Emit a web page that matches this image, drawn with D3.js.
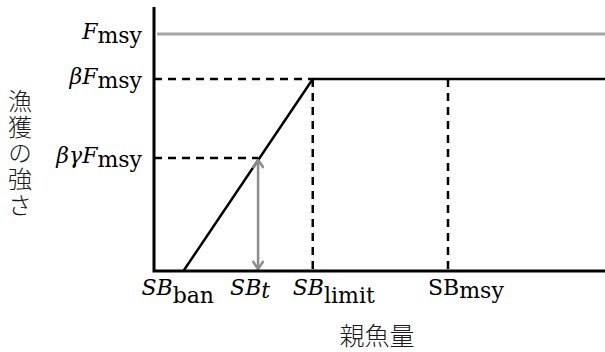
<!DOCTYPE html>
<html>
<head>
<meta charset="utf-8">
<script src="https://d3js.org/d3.v7.min.js"></script>
<style>
  html, body { margin: 0; padding: 0; background: #fff; }
  svg { display: block; }
</style>
</head>
<body>
<div id="chart"></div>
<script>
// Valores del diagrama (unidades relativas: Fmsy = 1, SBmsy = 1)
const fLevels = [1.0, 0.81, 0.477];          // Fmsy, βFmsy, βγFmsy
const fLabels = [
  { main: "F", sub: "msy", italicMain: true },
  { main: "βF", sub: "msy", italicMain: true },
  { main: "βγF", sub: "msy", italicMain: true }
];
const sbPoints = [0.10, 0.354, 0.54, 1.0];    // SBban, SBt, SBlimit, SBmsy
const sbLabels = [
  { main: "SB", sub: "ban", italicMain: true, italicSub: false },
  { main: "SB", sub: "t", italicMain: true, italicSub: true },
  { main: "SB", sub: "limit", italicMain: true, italicSub: false },
  { main: "SB", sub: "msy", italicMain: false, italicSub: false }
];
const fMax = 1.114;
const sbMax = 1.534;
const xTitle = "親魚量";
const yTitle = "漁獲の強さ";

// Ajustes de posición de las etiquetas (solo diseño)
const sbLabelShift = [-42, -28, -20, -20];
const sbSubDrop = [8, 3, 8, 3];

const width = 605, height = 352;
const x0 = 154, y0 = 271, yTop = 7;

const svg = d3.select("#chart").append("svg")
  .attr("width", width)
  .attr("height", height);

const x = d3.scaleLinear().domain([0, sbMax]).range([x0, width]);
const y = d3.scaleLinear().domain([0, fMax]).range([y0, yTop]);

const [fmsy, bFmsy, bgFmsy] = fLevels;
const [sbBan, sbT, sbLimit, sbMsy] = sbPoints;

const dash = "8,6";

// Línea gris Fmsy
svg.append("line")
  .attr("x1", x(0) + 3).attr("x2", x(sbMax))
  .attr("y1", y(fmsy)).attr("y2", y(fmsy))
  .attr("stroke", "#a6a6a6").attr("stroke-width", 3);

// Líneas discontinuas horizontales
svg.append("line")
  .attr("x1", x(0)).attr("x2", x(sbLimit))
  .attr("y1", y(bFmsy)).attr("y2", y(bFmsy))
  .attr("stroke", "#000").attr("stroke-width", 2.5)
  .attr("stroke-dasharray", dash);
svg.append("line")
  .attr("x1", x(0)).attr("x2", x(sbT))
  .attr("y1", y(bgFmsy)).attr("y2", y(bgFmsy))
  .attr("stroke", "#000").attr("stroke-width", 2.5)
  .attr("stroke-dasharray", dash);

// Líneas discontinuas verticales
[sbLimit, sbMsy].forEach(v => {
  svg.append("line")
    .attr("x1", x(v)).attr("x2", x(v))
    .attr("y1", y(bFmsy)).attr("y2", y(0))
    .attr("stroke", "#000").attr("stroke-width", 2.5)
    .attr("stroke-dasharray", dash);
});

// Regla de control
const hcr = [[sbBan, 0], [sbLimit, bFmsy], [sbMax, bFmsy]];
svg.append("path")
  .attr("d", d3.line().x(d => x(d[0])).y(d => y(d[1]))(hcr))
  .attr("fill", "none")
  .attr("stroke", "#000")
  .attr("stroke-width", 2.5);

// Flecha gris doble en SBt
const defs = svg.append("defs");
defs.append("marker")
  .attr("id", "chev")
  .attr("viewBox", "0 0 10 12")
  .attr("refX", 9).attr("refY", 6)
  .attr("markerWidth", 10).attr("markerHeight", 12)
  .attr("markerUnits", "userSpaceOnUse")
  .attr("orient", "auto-start-reverse")
  .append("path")
  .attr("d", "M1,0.5 L9,6 L1,11.5")
  .attr("fill", "none")
  .attr("stroke", "#8c8c8c")
  .attr("stroke-width", 2.5);

svg.append("line")
  .attr("x1", x(sbT)).attr("x2", x(sbT))
  .attr("y1", y(bgFmsy) + 2).attr("y2", y(0) - 2)
  .attr("stroke", "#8c8c8c").attr("stroke-width", 2.5)
  .attr("marker-start", "url(#chev)")
  .attr("marker-end", "url(#chev)");

// Ejes
svg.append("path")
  .attr("d", d3.line()([[x(0), y(fMax)], [x(0), y(0)], [x(sbMax), y(0)]]))
  .attr("fill", "none")
  .attr("stroke", "#000")
  .attr("stroke-width", 3);

// Etiquetas del eje Y
const serif = "'DejaVu Serif', 'Liberation Serif', serif";
fLevels.forEach((v, i) => {
  const lab = fLabels[i];
  const t = svg.append("text")
    .attr("x", x0 - 12)
    .attr("y", y(v) + 5)
    .attr("text-anchor", "end")
    .attr("font-family", serif)
    .attr("font-size", 22)
    .attr("fill", "#000");
  t.append("tspan").text(lab.main)
    .attr("font-style", lab.italicMain ? "italic" : "normal");
  t.append("tspan").text(lab.sub).attr("dy", 4);
});

// Etiquetas del eje X
sbPoints.forEach((v, i) => {
  const lab = sbLabels[i];
  const t = svg.append("text")
    .attr("x", x(v) + sbLabelShift[i])
    .attr("y", y(0) + 24)
    .attr("text-anchor", "start")
    .attr("font-family", serif)
    .attr("font-size", 22)
    .attr("fill", "#000");
  t.append("tspan").text(lab.main)
    .attr("font-style", lab.italicMain ? "italic" : "normal");
  t.append("tspan").text(lab.sub)
    .attr("dy", sbSubDrop[i])
    .attr("font-style", lab.italicSub ? "italic" : "normal");
});

// Títulos
const cjk = "'Noto Sans CJK JP', sans-serif";
svg.append("text")
  .attr("x", 377)
  .attr("y", 345)
  .attr("text-anchor", "middle")
  .attr("font-family", cjk)
  .attr("font-weight", 300)
  .attr("font-size", 25)
  .attr("fill", "#1a1a1a")
  .text(xTitle);

svg.append("text")
  .attr("x", 20)
  .attr("y", 89)
  .attr("font-family", cjk)
  .attr("font-weight", 300)
  .attr("font-size", 24)
  .attr("letter-spacing", 2)
  .attr("fill", "#1a1a1a")
  .style("writing-mode", "vertical-rl")
  .style("text-orientation", "upright")
  .text(yTitle);
</script>
</body>
</html>
